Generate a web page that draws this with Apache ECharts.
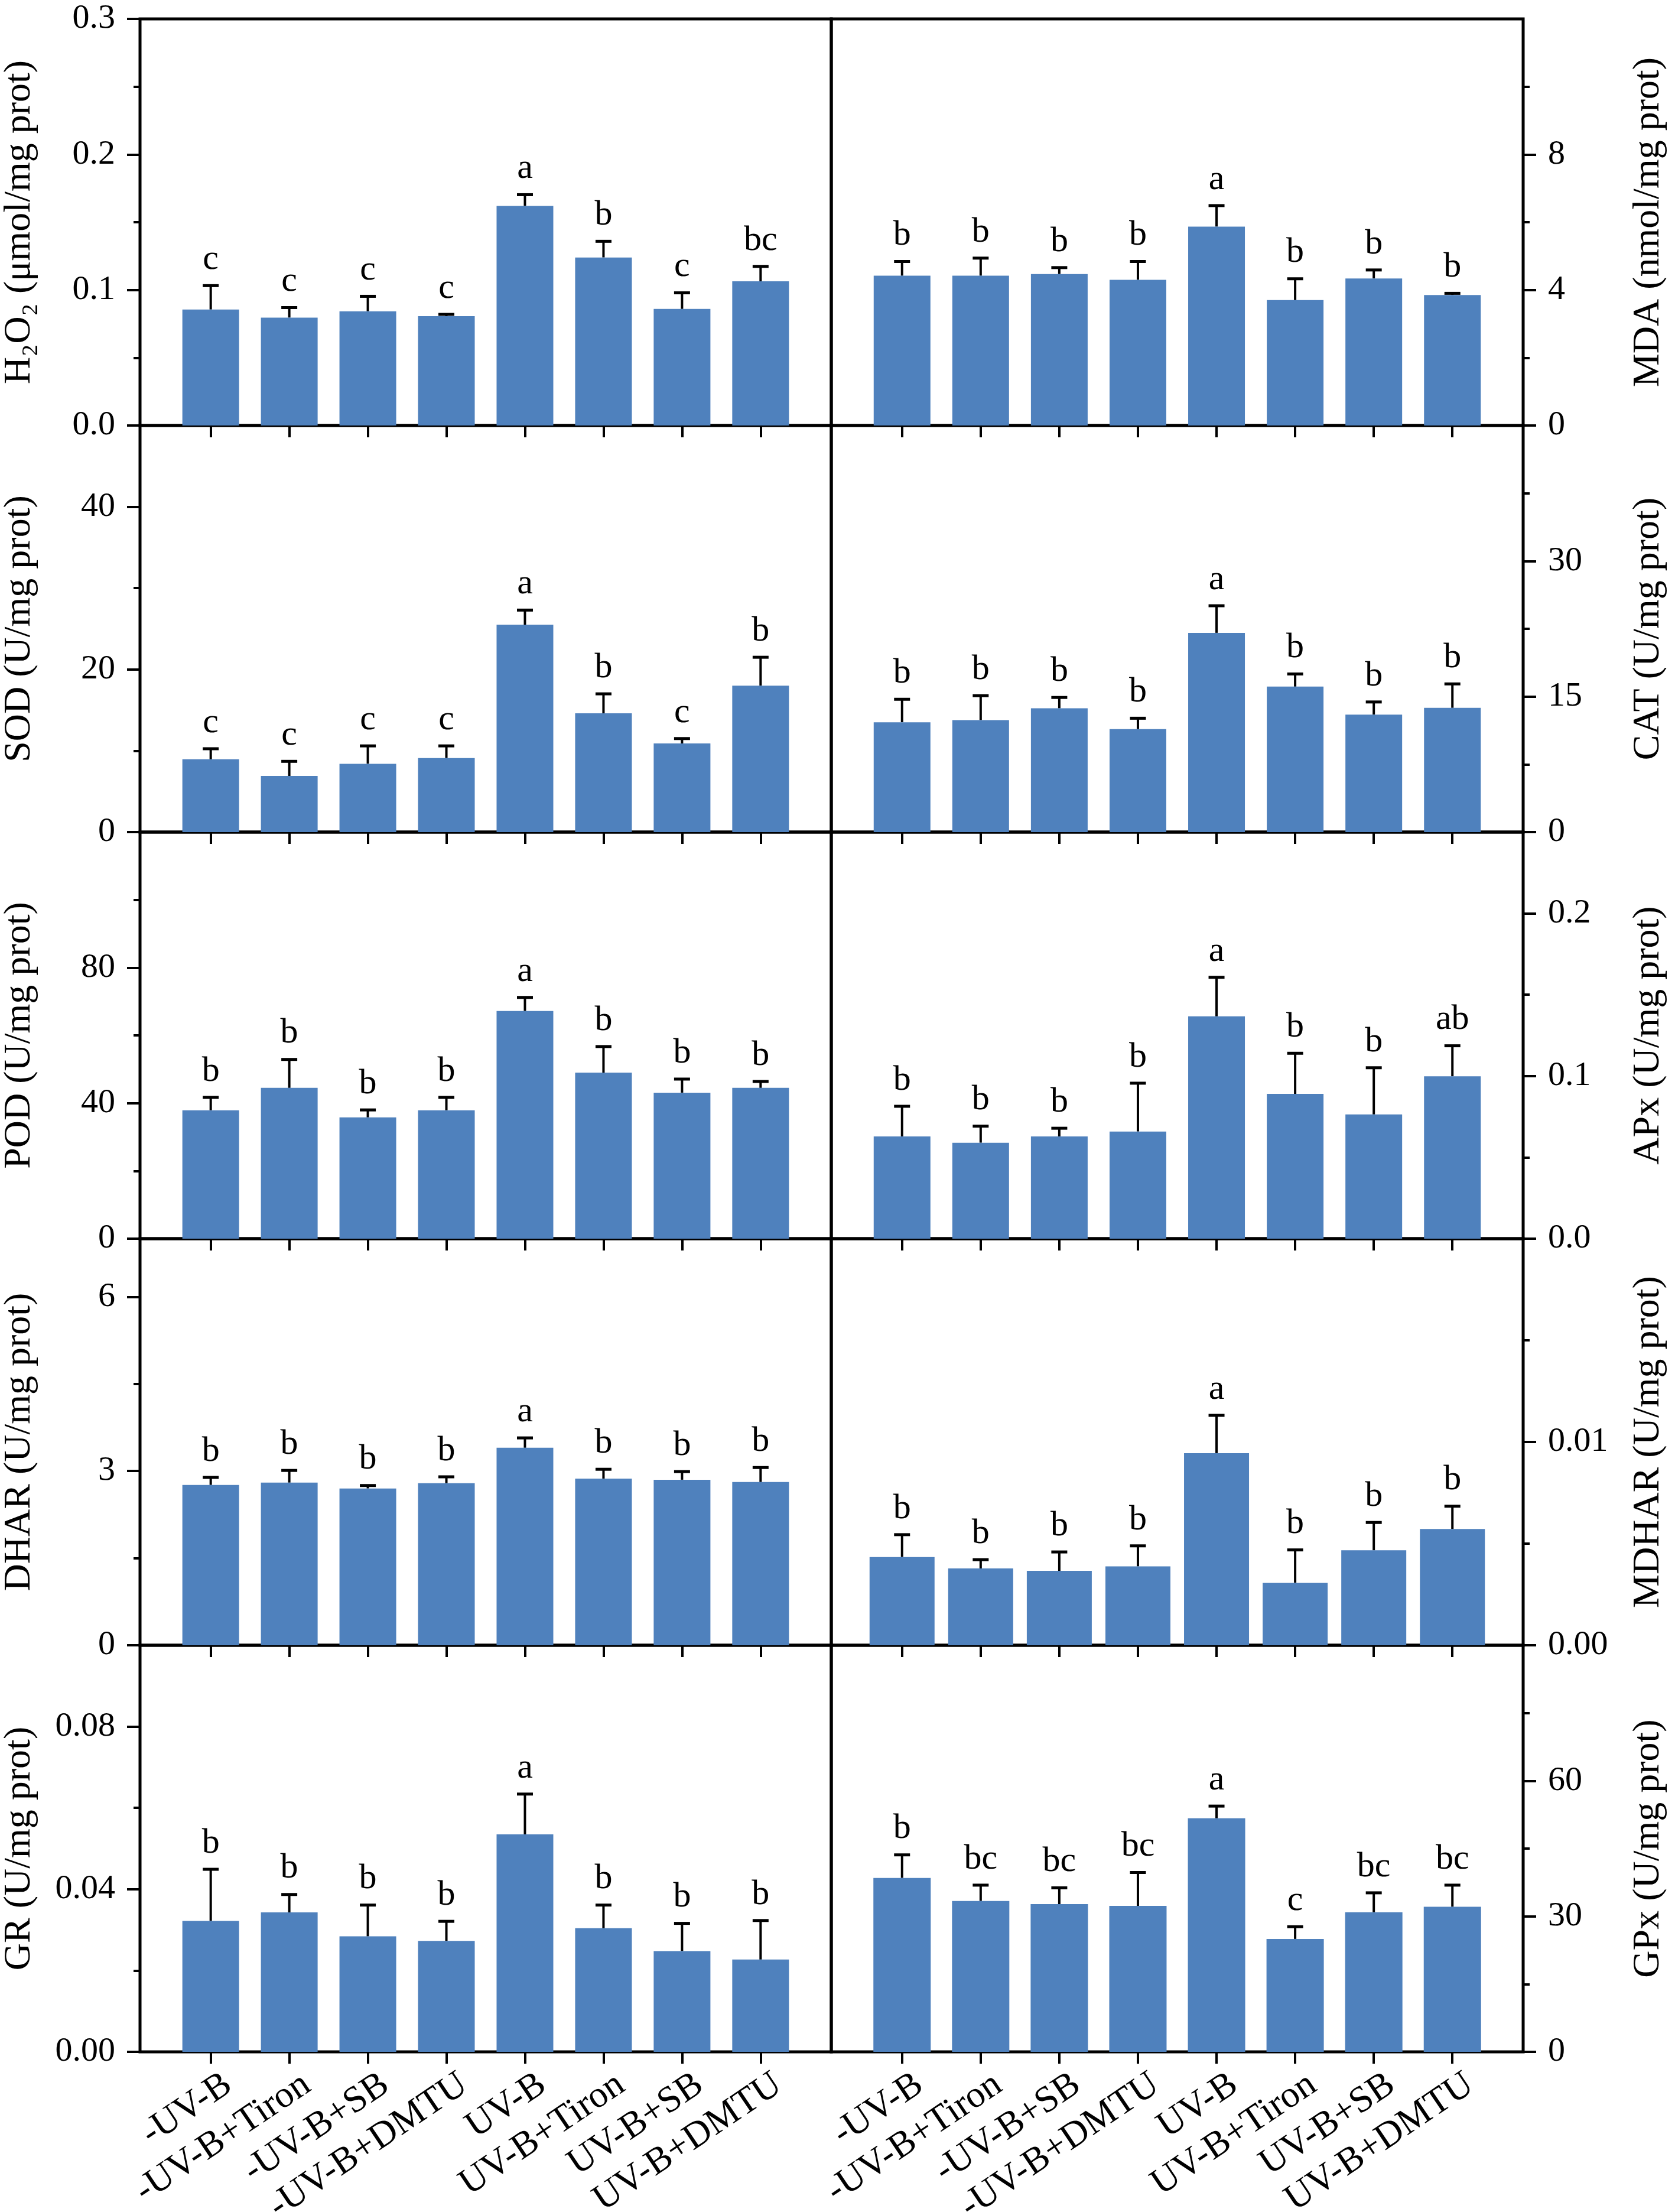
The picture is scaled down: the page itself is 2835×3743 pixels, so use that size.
<!DOCTYPE html>
<html>
<head>
<meta charset="utf-8">
<script src="https://cdn.jsdelivr.net/npm/echarts@6.0.0/dist/echarts.min.js"></script>
<style>
  html, body { margin: 0; padding: 0; background: #fff; }
  #chart { width: 2835px; height: 3743px; }
</style>
</head>
<body>
<div id="chart"></div>
<script>
// treatments, same order in every panel
var groups = ['-UV-B', '-UV-B+Tiron', '-UV-B+SB', '-UV-B+DMTU', 'UV-B', 'UV-B+Tiron', 'UV-B+SB', 'UV-B+DMTU'];

// H2O2
var h2o2 = [0.0856, 0.0796, 0.0843, 0.0807, 0.162, 0.124, 0.086, 0.1064];
var h2o2Err = [0.0176, 0.0074, 0.011, 0.0013, 0.0083, 0.0119, 0.0119, 0.011];
var h2o2Sig = ['c', 'c', 'c', 'c', 'a', 'b', 'c', 'bc'];
var h2o2Ticks = [0, 0.1, 0.2, 0.3];
var h2o2Minor = [0.05, 0.15, 0.25];

// MDA
var mda = [4.42, 4.42, 4.47, 4.30, 5.87, 3.70, 4.34, 3.85];
var mdaErr = [0.42, 0.52, 0.19, 0.54, 0.62, 0.63, 0.25, 0.05];
var mdaSig = ['b', 'b', 'b', 'b', 'a', 'b', 'b', 'b'];
var mdaTicks = [0, 4, 8];
var mdaMinor = [2, 6, 10];

// SOD
var sod = [8.95, 6.9, 8.4, 9.1, 25.5, 14.6, 10.9, 18.0];
var sodErr = [1.3, 1.8, 2.2, 1.5, 1.8, 2.4, 0.6, 3.5];
var sodSig = ['c', 'c', 'c', 'c', 'a', 'b', 'c', 'b'];
var sodTicks = [0, 20, 40];
var sodMinor = [10, 30];

// CAT
var cat = [12.15, 12.4, 13.7, 11.4, 22.05, 16.1, 13.0, 13.75];
var catErr = [2.55, 2.7, 1.2, 1.2, 3.0, 1.4, 1.4, 2.65];
var catSig = ['b', 'b', 'b', 'b', 'a', 'b', 'b', 'b'];
var catTicks = [0, 15, 30];
var catMinor = [7.5, 22.5, 37.5];

// POD
var pod = [37.9, 44.5, 35.8, 37.9, 67.2, 49.0, 43.1, 44.5];
var podErr = [3.8, 8.4, 2.2, 3.8, 4.0, 7.7, 4.0, 1.9];
var podSig = ['b', 'b', 'b', 'b', 'a', 'b', 'b', 'b'];
var podTicks = [0, 40, 80];
var podMinor = [20, 60, 100];

// APx
var apx = [0.0629, 0.059, 0.0629, 0.0659, 0.1367, 0.089, 0.0764, 0.0998];
var apxErr = [0.0185, 0.0102, 0.005, 0.0297, 0.024, 0.025, 0.0287, 0.0188];
var apxSig = ['b', 'b', 'b', 'b', 'a', 'b', 'b', 'ab'];
var apxTicks = [0, 0.1, 0.2];
var apxMinor = [0.05, 0.15];

// DHAR
var dhar = [2.76, 2.80, 2.70, 2.79, 3.40, 2.87, 2.85, 2.81];
var dharErr = [0.13, 0.21, 0.05, 0.11, 0.17, 0.16, 0.14, 0.25];
var dharSig = ['b', 'b', 'b', 'b', 'a', 'b', 'b', 'b'];
var dharTicks = [0, 3, 6];
var dharMinor = [1.5, 4.5];

// MDHAR
var mdhar = [0.00434, 0.00378, 0.00366, 0.00388, 0.00945, 0.00307, 0.00467, 0.00572];
var mdharErr = [0.0011, 0.00043, 0.00093, 0.00101, 0.00186, 0.00162, 0.00137, 0.00112];
var mdharSig = ['b', 'b', 'b', 'b', 'a', 'b', 'b', 'b'];
var mdharTicks = [0, 0.01];
var mdharMinor = [0.005, 0.015];

// GR
var gr = [0.0322, 0.0343, 0.0284, 0.0273, 0.0535, 0.0304, 0.0248, 0.0227];
var grErr = [0.0127, 0.0044, 0.0077, 0.0048, 0.0099, 0.0057, 0.0068, 0.0096];
var grSig = ['b', 'b', 'b', 'b', 'a', 'b', 'b', 'b'];
var grTicks = [0, 0.04, 0.08];
var grMinor = [0.02, 0.06];

// GPx
var gpx = [38.5, 33.4, 32.7, 32.3, 51.7, 25.0, 30.9, 32.1];
var gpxErr = [5.1, 3.5, 3.6, 7.4, 2.7, 2.7, 4.3, 4.8];
var gpxSig = ['b', 'bc', 'bc', 'bc', 'a', 'c', 'bc', 'bc'];
var gpxTicks = [0, 30, 60];
var gpxMinor = [15, 45, 75];

var FONT = '"Liberation Serif", "Times New Roman", serif';
var BLUE = '#4f81bd';
var positions = [0, 1, 2, 3, 4, 5, 6, 7];
// rotated names sit a little to the right of their tick
var LABEL_SHIFT = 0.225;
var labelPositions = positions.map(function (i) { return i + LABEL_SHIFT; });

// panel layout: side / row / axis range
var panels = [
  { name: 'H\u2082O\u2082 (\u03bcmol/mg prot)', v: h2o2, e: h2o2Err, s: h2o2Sig, ticks: h2o2Ticks, minor: h2o2Minor, max: 0.3, d: 1, side: 'left', row: 0, bw: 96 },
  { name: 'MDA (nmol/mg prot)', v: mda, e: mdaErr, s: mdaSig, ticks: mdaTicks, minor: mdaMinor, max: 12, d: 0, side: 'right', row: 0, bw: 96 },
  { name: 'SOD (U/mg prot)', v: sod, e: sodErr, s: sodSig, ticks: sodTicks, minor: sodMinor, max: 50, d: 0, side: 'left', row: 1, bw: 96 },
  { name: 'CAT (U/mg prot)', v: cat, e: catErr, s: catSig, ticks: catTicks, minor: catMinor, max: 45, d: 0, side: 'right', row: 1, bw: 96 },
  { name: 'POD (U/mg prot)', v: pod, e: podErr, s: podSig, ticks: podTicks, minor: podMinor, max: 120, d: 0, side: 'left', row: 2, bw: 96 },
  { name: 'APx (U/mg prot)', v: apx, e: apxErr, s: apxSig, ticks: apxTicks, minor: apxMinor, max: 0.25, d: 1, side: 'right', row: 2, bw: 96 },
  { name: 'DHAR (U/mg prot)', v: dhar, e: dharErr, s: dharSig, ticks: dharTicks, minor: dharMinor, max: 7, d: 0, side: 'left', row: 3, bw: 96 },
  { name: 'MDHAR (U/mg prot)', v: mdhar, e: mdharErr, s: mdharSig, ticks: mdharTicks, minor: mdharMinor, max: 0.02, d: 2, side: 'right', row: 3, bw: 110 },
  { name: 'GR (U/mg prot)', v: gr, e: grErr, s: grSig, ticks: grTicks, minor: grMinor, max: 0.1, d: 2, side: 'left', row: 4, bw: 96 },
  { name: 'GPx (U/mg prot)', v: gpx, e: gpxErr, s: gpxSig, ticks: gpxTicks, minor: gpxMinor, max: 90, d: 0, side: 'right', row: 4, bw: 97 }
];

var chart = echarts.init(document.getElementById('chart'));

var grid = [], xAxis = [], yAxis = [], series = [];

panels.forEach(function (p, k) {
  var isLeft = p.side === 'left';

  grid.push({
    left: isLeft ? 237 : 1407,
    top: 32 + 688 * p.row,
    width: isLeft ? 1170 : 1171,
    height: 688,
    containLabel: false,
    outerBoundsMode: 'none',
    show: true,
    borderColor: '#000',
    borderWidth: 5,
    backgroundColor: 'transparent'
  });

  xAxis.push({
    gridIndex: k,
    type: 'value',
    min: -0.9,
    max: 7.9,
    axisLine: { show: false, onZero: false },
    splitLine: { show: false },
    axisTick: { show: true, customValues: positions, length: 20, lineStyle: { color: '#000', width: 4 } },
    axisLabel: {
      show: p.row === 4,
      customValues: labelPositions,
      rotate: 34,
      margin: 50,
      hideOverlap: false,
      color: '#000',
      fontFamily: FONT,
      fontSize: 63,
      formatter: function (val) { return groups[Math.round(val - LABEL_SHIFT)]; }
    }
  });

  // major ticks + labels + name
  yAxis.push({
    gridIndex: k,
    type: 'value',
    position: p.side,
    min: 0,
    max: p.max,
    name: p.name,
    nameLocation: 'middle',
    nameRotate: 90,
    nameGap: isLeft ? 172 : 180,
    nameTextStyle: { color: '#000', fontFamily: FONT, fontSize: 64 },
    axisLine: { show: false, onZero: false },
    splitLine: { show: false },
    axisTick: { show: true, customValues: p.ticks, length: 22, lineStyle: { color: '#000', width: 4 } },
    axisLabel: {
      customValues: p.ticks,
      margin: 42,
      color: '#000',
      fontFamily: FONT,
      fontSize: 58,
      formatter: function (val) { return val.toFixed(p.d); }
    }
  });

  // minor ticks
  yAxis.push({
    gridIndex: k,
    type: 'value',
    position: p.side,
    min: 0,
    max: p.max,
    axisLine: { show: false, onZero: false },
    splitLine: { show: false },
    axisLabel: { show: false },
    axisTick: { show: true, customValues: p.minor, length: 11, lineStyle: { color: '#000', width: 4 } }
  });

  series.push({
    type: 'bar',
    xAxisIndex: k,
    yAxisIndex: 2 * k,
    barWidth: p.bw,
    itemStyle: { color: BLUE },
    silent: true,
    data: p.v.map(function (val, i) { return [i, val]; })
  });

  // error bars and letters
  series.push({
    type: 'custom',
    xAxisIndex: k,
    yAxisIndex: 2 * k,
    silent: true,
    data: p.v.map(function (val, i) { return [i, val, p.e[i]]; }),
    renderItem: function (params, api) {
      var x = api.value(0), val = api.value(1), err = api.value(2);
      var base = api.coord([x, val]);
      var top = api.coord([x, val + err]);
      return {
        type: 'group',
        children: [
          { type: 'line', shape: { x1: top[0], y1: base[1], x2: top[0], y2: top[1] }, style: { stroke: '#000', lineWidth: 4 } },
          { type: 'line', shape: { x1: top[0] - 13.5, y1: top[1], x2: top[0] + 13.5, y2: top[1] }, style: { stroke: '#000', lineWidth: 5 } },
          {
            type: 'text',
            style: {
              text: p.s[params.dataIndex],
              x: top[0],
              y: top[1] - 14,
              textAlign: 'center',
              textVerticalAlign: 'bottom',
              fontFamily: FONT,
              fontSize: 60,
              fill: '#000'
            }
          }
        ]
      };
    }
  });
});

chart.setOption({
  animation: false,
  backgroundColor: '#fff',
  grid: grid,
  xAxis: xAxis,
  yAxis: yAxis,
  series: series
});
</script>
</body>
</html>
